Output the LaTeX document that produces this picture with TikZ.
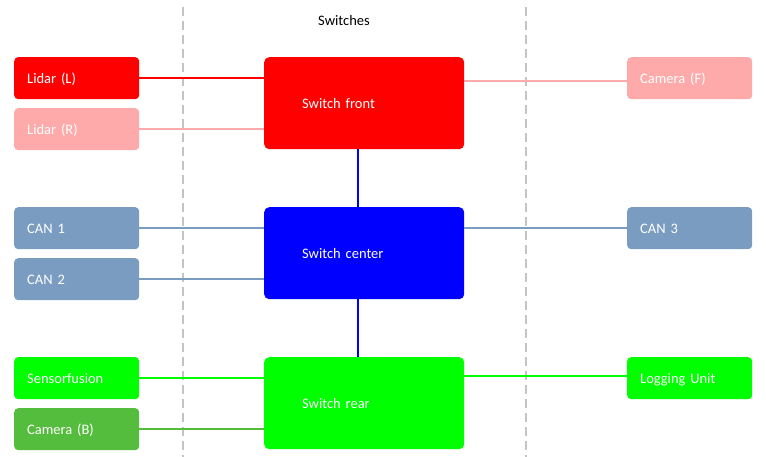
\documentclass[tikz,border=0pt]{standalone}
\usepackage{fontspec}
\setmainfont{Carlito}
\usetikzlibrary{positioning}

\definecolor{swred}{HTML}{FF0000}
\definecolor{swpink}{HTML}{FFAAAA}
\definecolor{swsteel}{HTML}{7A9CC1}
\definecolor{swblue}{HTML}{0000FF}
\definecolor{swgreen}{HTML}{00FF00}
\definecolor{swdkgreen}{HTML}{55BD3E}
\definecolor{swgrey}{HTML}{C4C4C4}

\tikzset{
    device/.style={rectangle, rounded corners=4pt, fill=#1, text=white,
        anchor=north west, minimum width=125pt, minimum height=42pt,
        inner xsep=13pt, text width=99pt, align=left,
        text height=12pt, text depth=1pt,
        font=\fontsize{14.5}{16}\selectfont},
    switchbox/.style={rectangle, rounded corners=5pt, fill=#1, text=white,
        anchor=north west, minimum width=200pt, minimum height=92pt,
        inner xsep=38pt, text width=124pt, align=left,
        text height=12pt, text depth=1pt,
        font=\fontsize{14.5}{16}\selectfont},
    link/.style={draw=#1, line width=2pt},
    border/.style={draw=swgrey, line width=2.5pt, dash pattern=on 9pt off 5pt},
}

\begin{document}
\begin{tikzpicture}[x=1pt, y=-1pt]
    \useasboundingbox (0,0) rectangle (766,457);

    % zone borders and title
    \draw[border] (183,7) -- (183,457);
    \draw[border] (526,7) -- (526,457);
    \node[font=\fontsize{14.5}{16}\selectfont] (title) at (344,21) {Switches};

    % switches
    \node[switchbox=swred]   (front)  at (264,57)  {Switch front};
    \node[switchbox=swblue]  (center) at (264,207) {Switch center};
    \node[switchbox=swgreen] (rear)   at (264,357) {Switch rear};

    % devices, left side
    \node[device=swred]     (lidarl) at (14,57)  {Lidar (L)};
    \node[device=swpink]    (lidarr) at (14,108) {Lidar (R)};
    \node[device=swsteel]   (can1)   at (14,207) {CAN 1};
    \node[device=swsteel]   (can2)   at (14,258) {CAN 2};
    \node[device=swgreen]   (fusion) at (14,357) {Sensorfusion};
    \node[device=swdkgreen] (camb)   at (14,408) {Camera (B)};

    % devices, right side
    \node[device=swpink]  (camf) at (627,57)  {Camera (F)};
    \node[device=swsteel] (can3) at (627,207) {CAN 3};
    \node[device=swgreen] (log)  at (627,357) {Logging Unit};

    % links
    \draw[link=swred]     (lidarl.east) -- (lidarl.east -| front.west);
    \draw[link=swpink]    (lidarr.east) -- (lidarr.east -| front.west);
    \draw[link=swpink]    ([yshift=-3pt]camf.west) -- ([yshift=-3pt]camf.west -| front.east);
    \draw[link=swsteel]   (can1.east) -- (can1.east -| center.west);
    \draw[link=swsteel]   (can2.east) -- (can2.east -| center.west);
    \draw[link=swsteel]   (can3.west) -- (can3.west -| center.east);
    \draw[link=swgreen]   (fusion.east) -- (fusion.east -| rear.west);
    \draw[link=swdkgreen] (camb.east) -- (camb.east -| rear.west);
    \draw[link=swgreen]   ([yshift=2pt]log.west) -- ([yshift=2pt]log.west -| rear.east);
    \draw[link=swblue]    ([xshift=-6pt]front.south) -- ([xshift=-6pt]center.north);
    \draw[link=swblue]    ([xshift=-6pt]center.south) -- ([xshift=-6pt]rear.north);
\end{tikzpicture}
\end{document}
